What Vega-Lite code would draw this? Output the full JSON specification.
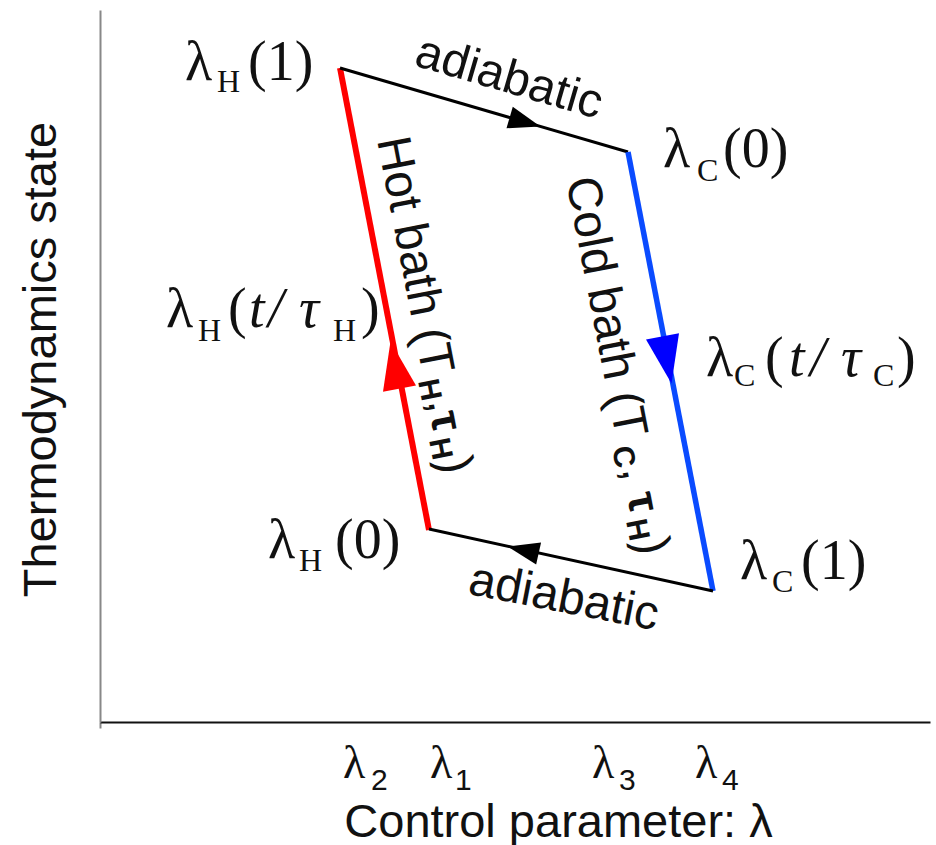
{
  "$schema": "https://vega.github.io/schema/vega-lite/v6.json",
  "width": 830,
  "height": 712,
  "autosize": {"type": "none"},
  "padding": {"left": 100, "top": 10, "right": 6, "bottom": 123},
  "background": "white",
  "config": {"view": {"stroke": null}, "axis": {"grid": false}},
  "datasets": {
    "seg": [
      {"stage": "hot", "x": 3.29, "y": 1.92, "x2": 2.40, "y2": 6.54},
      {"stage": "expand", "x": 2.40, "y": 6.54, "x2": 5.28, "y2": 5.70},
      {"stage": "cold", "x": 5.28, "y": 5.70, "x2": 6.13, "y2": 1.31},
      {"stage": "compress", "x": 6.13, "y": 1.31, "x2": 3.29, "y2": 1.93}
    ],
    "arrows": [
      {"stage": "expand", "x": 4.25, "y": 6.00, "dir": 16.3},
      {"stage": "hot", "x": 2.95, "y": 3.57, "dir": -100.8},
      {"stage": "cold", "x": 5.67, "y": 3.62, "dir": 79.2},
      {"stage": "compress", "x": 4.23, "y": 1.72, "dir": 192.7}
    ],
    "lab": [
      {"x": 0.85, "y": 6.42, "t": "λ"}, {"x": 1.48, "y": 6.42, "t": "(1)"},
      {"x": 5.63, "y": 5.55, "t": "λ"}, {"x": 6.23, "y": 5.55, "t": "(0)"},
      {"x": 0.66, "y": 3.95, "t": "λ"}, {"x": 1.28, "y": 3.95, "t": "("}, {"x": 2.61, "y": 3.95, "t": ")"},
      {"x": 6.06, "y": 3.46, "t": "λ"}, {"x": 6.65, "y": 3.46, "t": "("}, {"x": 7.97, "y": 3.46, "t": ")"},
      {"x": 1.68, "y": 1.64, "t": "λ"}, {"x": 2.35, "y": 1.64, "t": "(0)"},
      {"x": 6.40, "y": 1.43, "t": "λ"}, {"x": 7.01, "y": 1.43, "t": "(1)"}
    ],
    "labi": [
      {"x": 1.49, "y": 3.95, "t": "t"}, {"x": 1.68, "y": 3.95, "t": "/"}, {"x": 1.99, "y": 3.95, "t": "τ"},
      {"x": 6.89, "y": 3.46, "t": "t"}, {"x": 7.10, "y": 3.46, "t": "/"}, {"x": 7.41, "y": 3.46, "t": "τ"}
    ],
    "labs": [
      {"x": 1.17, "y": 6.30, "t": "H"}, {"x": 5.97, "y": 5.41, "t": "C"},
      {"x": 0.98, "y": 3.81, "t": "H"}, {"x": 2.33, "y": 3.81, "t": "H"},
      {"x": 6.34, "y": 3.36, "t": "C"}, {"x": 7.73, "y": 3.36, "t": "C"},
      {"x": 1.99, "y": 1.51, "t": "H"}, {"x": 6.72, "y": 1.30, "t": "C"}
    ],
    "tickl": [
      {"x": 2.43, "y": -0.56, "t": "λ"}, {"x": 3.30, "y": -0.56, "t": "λ"},
      {"x": 4.92, "y": -0.56, "t": "λ"}, {"x": 5.95, "y": -0.56, "t": "λ"}
    ],
    "ticks": [
      {"x": 2.71, "y": -0.68, "t": "2"}, {"x": 3.55, "y": -0.68, "t": "1"},
      {"x": 5.19, "y": -0.68, "t": "3"}, {"x": 6.22, "y": -0.68, "t": "4"}
    ],
    "aditop": [{"x": 4.05, "y": 6.30, "t": "adiabatic"}],
    "adibot": [{"x": 4.61, "y": 1.10, "t": "adiabatic"}],
    "bath": [
      {"x": 2.77, "y": 5.82, "t": "Hot bath (T"}, {"x": 3.28, "y": 3.21, "t": ","}, {"x": 3.39, "y": 2.62, "t": ")"},
      {"x": 4.66, "y": 5.42, "t": "Cold bath (T"}, {"x": 5.22, "y": 2.53, "t": ","}, {"x": 5.36, "y": 1.81, "t": ")"}
    ],
    "baths": [
      {"x": 3.18, "y": 3.41, "t": "H"}, {"x": 3.29, "y": 2.82, "t": "H"},
      {"x": 5.12, "y": 2.74, "t": "C"}, {"x": 5.26, "y": 2.01, "t": "H"}
    ],
    "bathtau": [
      {"x": 3.30, "y": 3.08, "t": "τ"}, {"x": 5.27, "y": 2.27, "t": "τ"}
    ]
  },
  "encoding": {
    "x": {
      "field": "x", "type": "quantitative",
      "scale": {"domain": [0, 8.3], "nice": false, "zero": false},
      "axis": {
        "domain": true, "domainColor": "#111", "domainWidth": 2,
        "ticks": true, "values": [0], "tickColor": "#888", "tickSize": 6, "tickWidth": 2,
        "labels": false, "grid": false,
        "title": "Control parameter: λ",
        "titleFont": "Liberation Sans", "titleFontSize": 47, "titleFontWeight": "normal", "titleColor": "#111",
        "titleX": 458, "titleY": 114, "titleAlign": "center", "titleBaseline": "alphabetic"
      }
    },
    "y": {
      "field": "y", "type": "quantitative",
      "scale": {"domain": [0, 7.12], "nice": false, "zero": false},
      "axis": {
        "domain": true, "domainColor": "#888", "domainWidth": 2,
        "ticks": false, "labels": false, "grid": false,
        "title": "Thermodynamics state",
        "titleFont": "Liberation Sans", "titleFontSize": 47, "titleFontWeight": "normal", "titleColor": "#111",
        "titleAngle": -90, "titleX": -45, "titleY": 349, "titleAlign": "center", "titleBaseline": "alphabetic"
      }
    }
  },
  "layer": [
    {
      "data": {"name": "seg"},
      "mark": {"type": "rule", "strokeCap": "butt"},
      "encoding": {
        "x2": {"field": "x2"},
        "y2": {"field": "y2"},
        "color": {"field": "stage", "type": "nominal", "scale": {"domain": ["hot", "expand", "cold", "compress"], "range": ["#ff0000", "#000000", "#0a4bff", "#000000"]}, "legend": null},
        "strokeWidth": {"field": "stage", "type": "nominal", "scale": {"type": "ordinal", "domain": ["hot", "expand", "cold", "compress"], "range": [6, 3, 5.5, 3]}, "legend": null}
      }
    },
    {
      "data": {"name": "arrows"},
      "mark": {"type": "point", "shape": "M-1,-0.7L1,0L-1,0.7Z", "filled": true, "opacity": 1, "strokeWidth": 0},
      "encoding": {
        "angle": {"field": "dir", "type": "quantitative", "scale": null},
        "color": {"field": "stage", "type": "nominal", "scale": {"domain": ["hot", "expand", "cold", "compress"], "range": ["#ff0000", "#000000", "#0000ff", "#000000"]}, "legend": null},
        "size": {"field": "stage", "type": "nominal", "scale": {"type": "ordinal", "domain": ["hot", "expand", "cold", "compress"], "range": [2304, 1024, 2304, 1024]}, "legend": null}
      }
    },
    {
      "data": {"name": "lab"},
      "mark": {"type": "text", "font": "Liberation Serif", "fontSize": 56, "align": "left", "baseline": "alphabetic", "color": "#111"},
      "encoding": {"text": {"field": "t"}}
    },
    {
      "data": {"name": "labi"},
      "mark": {"type": "text", "font": "Liberation Serif", "fontStyle": "italic", "fontSize": 56, "align": "left", "baseline": "alphabetic", "color": "#111"},
      "encoding": {"text": {"field": "t"}}
    },
    {
      "data": {"name": "labs"},
      "mark": {"type": "text", "font": "Liberation Serif", "fontSize": 32, "align": "left", "baseline": "alphabetic", "color": "#111"},
      "encoding": {"text": {"field": "t"}}
    },
    {
      "data": {"name": "tickl"},
      "mark": {"type": "text", "font": "Liberation Serif", "fontSize": 46, "align": "left", "baseline": "alphabetic", "color": "#111"},
      "encoding": {"text": {"field": "t"}}
    },
    {
      "data": {"name": "ticks"},
      "mark": {"type": "text", "font": "Liberation Sans", "fontSize": 30, "align": "left", "baseline": "alphabetic", "color": "#111"},
      "encoding": {"text": {"field": "t"}}
    },
    {
      "data": {"name": "aditop"},
      "mark": {"type": "text", "font": "Liberation Sans", "fontSize": 48, "align": "center", "baseline": "alphabetic", "angle": 16.3, "color": "#111"},
      "encoding": {"text": {"field": "t"}}
    },
    {
      "data": {"name": "adibot"},
      "mark": {"type": "text", "font": "Liberation Sans", "fontSize": 48, "align": "center", "baseline": "alphabetic", "angle": 11, "color": "#111"},
      "encoding": {"text": {"field": "t"}}
    },
    {
      "data": {"name": "bath"},
      "mark": {"type": "text", "font": "Liberation Sans", "fontSize": 48, "align": "left", "baseline": "alphabetic", "angle": 79, "color": "#111"},
      "encoding": {"text": {"field": "t"}}
    },
    {
      "data": {"name": "baths"},
      "mark": {"type": "text", "font": "Liberation Sans", "fontSize": 30, "fontWeight": "bold", "align": "left", "baseline": "alphabetic", "angle": 79, "color": "#111"},
      "encoding": {"text": {"field": "t"}}
    },
    {
      "data": {"name": "bathtau"},
      "mark": {"type": "text", "font": "Liberation Sans", "fontSize": 44, "fontWeight": "bold", "align": "left", "baseline": "alphabetic", "angle": 79, "color": "#111"},
      "encoding": {"text": {"field": "t"}}
    }
  ],
  "resolve": {"scale": {"color": "independent", "size": "independent", "strokeWidth": "independent"}}
}
